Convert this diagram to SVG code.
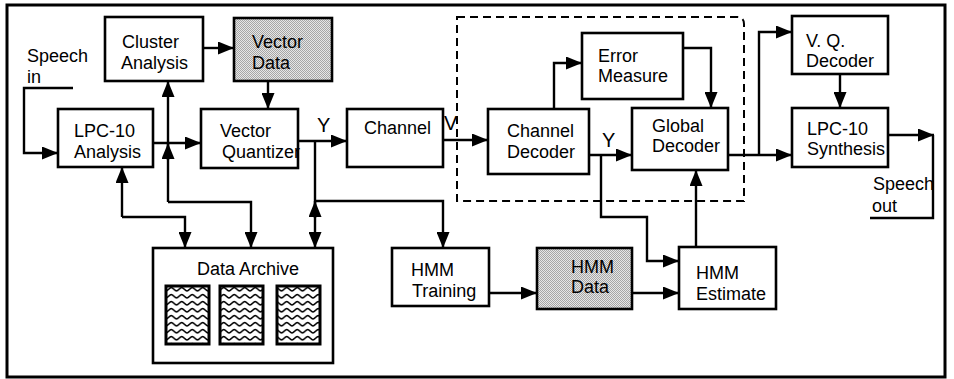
<svg xmlns="http://www.w3.org/2000/svg" width="954" height="379" viewBox="0 0 954 379">
  <style>
    .box { fill: #ffffff; stroke: #000; stroke-width: 2.6; }
    .shaded { fill: url(#stipple); stroke: #000; stroke-width: 2.6; }
    .wave { fill: url(#waves); stroke: #000; stroke-width: 3; }
    .lbl { font-family: "Liberation Sans", Arial, Helvetica, sans-serif; font-size: 18px; fill: #000; }
    .big { font-size: 20px; }
    .wire { fill: none; stroke: #000; stroke-width: 2.4; }
    .arr { marker-end: url(#head); }
    .frame { fill: #fff; stroke: #000; stroke-width: 3; }
    .dash { fill: none; stroke: #000; stroke-width: 2; stroke-dasharray: 8 5; }
  </style>
  <defs>
    <marker id="head" markerUnits="userSpaceOnUse" markerWidth="16" markerHeight="13" refX="16" refY="6.5" orient="auto">
      <path d="M0,0 L16,6.5 L0,13 z" fill="#000"/>
    </marker>
    <!-- fine grey stipple for data stores -->
    <pattern id="stipple" patternUnits="userSpaceOnUse" width="2" height="2">
      <rect width="2" height="2" fill="#e6e6e6"/>
      <rect width="1" height="1" fill="#a6a6a6"/>
      <rect x="1" y="1" width="1" height="1" fill="#a6a6a6"/>
    </pattern>
    <!-- wavy lines for archive sheets -->
    <pattern id="waves" patternUnits="userSpaceOnUse" x="166" y="286" width="10.5" height="7">
      <rect width="10.5" height="7" fill="#fff"/>
      <path d="M0,5 C1.8,5 3.4,1.5 5.25,1.5 C7.1,1.5 8.7,5 10.5,5" fill="none" stroke="#000" stroke-width="1.6"/>
    </pattern>
  </defs>

  <rect class="frame" x="7" y="5" width="938" height="372"/>

  <!-- decoder region -->
  <path class="dash" d="M457,17 H737 Q744,17 744,24 V201 H457 Z"/>

  <g id="cluster-analysis">
    <rect class="box" x="105" y="17" width="98" height="64"/>
    <text class="lbl" x="122" y="48">Cluster</text>
    <text class="lbl" x="121" y="69">Analysis</text>
  </g>
  <g id="vector-data">
    <rect class="shaded" x="234" y="18" width="98" height="63"/>
    <text class="lbl" x="252" y="48">Vector</text>
    <text class="lbl" x="252" y="69">Data</text>
  </g>
  <g id="lpc-analysis">
    <rect class="box" x="58" y="109" width="95" height="58"/>
    <text class="lbl" x="74" y="137">LPC-10</text>
    <text class="lbl" x="74" y="158">Analysis</text>
  </g>
  <g id="vector-quantizer">
    <rect class="box" x="201" y="109" width="97" height="59"/>
    <text class="lbl" x="220" y="137">Vector</text>
    <text class="lbl" x="222" y="158">Quantizer</text>
  </g>
  <g id="channel">
    <rect class="box" x="347" y="109" width="96" height="58"/>
    <text class="lbl" x="364" y="134">Channel</text>
  </g>
  <g id="channel-decoder">
    <rect class="box" x="488" y="109" width="101" height="65"/>
    <text class="lbl" x="507" y="137">Channel</text>
    <text class="lbl" x="507" y="158">Decoder</text>
  </g>
  <g id="error-measure">
    <rect class="box" x="582" y="33" width="101" height="66"/>
    <text class="lbl" x="598" y="62">Error</text>
    <text class="lbl" x="598" y="82">Measure</text>
  </g>
  <g id="global-decoder">
    <rect class="box" x="632" y="108" width="96" height="62"/>
    <text class="lbl" x="652" y="132">Global</text>
    <text class="lbl" x="652" y="152">Decoder</text>
  </g>
  <g id="vq-decoder">
    <rect class="box" x="792" y="16" width="96" height="58"/>
    <text class="lbl" x="806" y="47">V. Q.</text>
    <text class="lbl" x="806" y="67">Decoder</text>
  </g>
  <g id="lpc-synthesis">
    <rect class="box" x="792" y="108" width="96" height="59"/>
    <text class="lbl" x="807" y="135">LPC-10</text>
    <text class="lbl" x="807" y="155">Synthesis</text>
  </g>
  <g id="data-archive">
    <rect class="box" x="153" y="248" width="180" height="115"/>
    <text class="lbl" x="197" y="275">Data  Archive</text>
    <rect class="wave" x="166" y="286" width="43" height="58"/>
    <rect class="wave" x="220" y="286" width="43" height="58"/>
    <rect class="wave" x="277" y="286" width="43" height="58"/>
  </g>
  <g id="hmm-training">
    <rect class="box" x="392" y="248" width="97" height="58"/>
    <text class="lbl" x="411" y="276">HMM</text>
    <text class="lbl" x="412" y="297">Training</text>
  </g>
  <g id="hmm-data">
    <rect class="shaded" x="537" y="248" width="95" height="61"/>
    <text class="lbl" x="571" y="273">HMM</text>
    <text class="lbl" x="571" y="293">Data</text>
  </g>
  <g id="hmm-estimate">
    <rect class="box" x="679" y="247" width="97" height="62"/>
    <text class="lbl" x="696" y="279">HMM</text>
    <text class="lbl" x="696" y="300">Estimate</text>
  </g>

  <g id="connectors">
    <path class="wire arr" d="M73,88 H24 V153 H58"/>
    <path class="wire arr" d="M153,143 H201"/>
    <path class="wire arr" d="M168,202 V81"/>
    <path class="wire arr" d="M168,202 H251 V248"/>
    <path class="wire arr" d="M168,160 V143"/>
    <path class="wire arr" d="M122,217 V167"/>
    <path class="wire arr" d="M122,217 H185 V248"/>
    <path class="wire arr" d="M203,48 H234"/>
    <path class="wire arr" d="M268,81 V109"/>
    <path class="wire arr" d="M298,141 H347"/>
    <path class="wire arr" d="M315,141 V248"/>
    <path class="wire arr" d="M315,218 V201"/>
    <path class="wire arr" d="M315,201 H443 V248"/>
    <path class="wire arr" d="M443,140 H488"/>
    <path class="wire arr" d="M554,109 V63 H582"/>
    <path class="wire arr" d="M589,155 H632"/>
    <path class="wire arr" d="M601,155 V217 H647 V261 H679"/>
    <path class="wire arr" d="M489,293 H537"/>
    <path class="wire arr" d="M632,293 H679"/>
    <path class="wire arr" d="M696,247 V170"/>
    <path class="wire arr" d="M683,48 H711 V108"/>
    <path class="wire arr" d="M728,155 H792"/>
    <path class="wire arr" d="M759,155 V32 H792"/>
    <path class="wire arr" d="M840,74 V108"/>
    <path class="wire arr" d="M888,135 H934"/>
    <path class="wire" d="M933,135 V218 H870"/>
  </g>

  <g id="labels">
    <text class="lbl" x="27" y="62">Speech</text>
    <text class="lbl" x="27" y="83">in</text>
    <text class="lbl big" x="317" y="132">Y</text>
    <text class="lbl big" x="444" y="130">V</text>
    <text class="lbl big" x="602" y="147">Y</text>
    <text class="lbl" x="873" y="190">Speech</text>
    <text class="lbl" x="872" y="212">out</text>
  </g>
</svg>
